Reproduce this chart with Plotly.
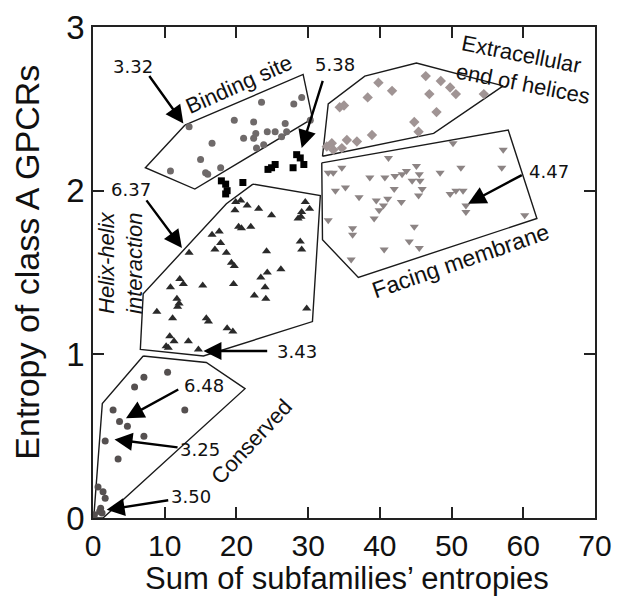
import plotly.graph_objects as go

# ---- residue groups: (sum of subfamily entropies, class A entropy) ----
binding_x = [13.4, 16.6, 15.0, 10.8, 15.7, 16.0, 17.8, 19.7, 22.4, 23.5, 21.0, 22.4,
             22.7, 24.3, 25.4, 26.8, 27.0, 30.3, 28.0, 29.1, 22.8, 23.8, 26.3]
binding_y = [2.39, 2.29, 2.19, 2.12, 2.11, 2.10, 2.14, 2.43, 2.42, 2.54, 2.32, 2.32,
             2.35, 2.36, 2.36, 2.41, 2.36, 2.43, 2.53, 2.57, 2.26, 2.28, 2.33]

extra_x = [39.8, 41.7, 38.3, 46.4, 48.5, 49.8, 50.6, 46.9, 54.5, 47.9, 44.8, 45.4,
           34.4, 35.0, 38.9, 36.8, 35.4, 33.3, 32.6, 33.5, 34.7]
extra_y = [2.66, 2.61, 2.57, 2.70, 2.67, 2.63, 2.59, 2.59, 2.59, 2.48, 2.42, 2.36,
           2.51, 2.52, 2.34, 2.30, 2.31, 2.29, 2.27, 2.25, 2.26]

membrane_x = [41.2, 34.7, 32.8, 33.5, 38.6, 40.7, 42.1, 43.1, 43.7, 45.1, 45.5, 44.5,
              45.6, 45.9, 45.4, 48.4, 51.3, 57.0, 33.8, 35.2, 37.1, 39.5, 41.1, 42.0,
              43.0, 40.5, 39.9, 39.2, 32.8, 36.2, 36.2, 44.8, 44.1, 45.5, 40.6, 36.0,
              49.8, 50.6, 51.6, 52.0, 52.0, 60.2, 50.2, 57.2]
membrane_y = [2.20, 2.14, 2.11, 2.11, 2.08, 2.08, 2.09, 2.10, 2.12, 2.15, 2.10, 2.06,
              2.06, 2.01, 1.97, 2.11, 2.14, 2.14, 2.00, 2.02, 1.96, 1.94, 1.95, 2.01,
              1.93, 1.91, 1.88, 1.83, 1.82, 1.77, 1.73, 1.78, 1.69, 1.65, 1.64, 1.58,
              1.98, 2.00, 2.00, 1.91, 1.87, 1.85, 2.29, 2.25]

helix_x = [19.9, 20.6, 19.8, 21.5, 23.1, 24.9, 20.3, 20.7, 22.0, 29.6, 30.2, 29.1,
           28.6, 29.0, 16.6, 17.6, 17.8, 17.0, 18.6, 13.4, 24.2, 28.9, 29.1, 19.3,
           19.7, 26.2, 24.3, 23.4, 19.6, 15.3, 12.1, 12.6, 10.8, 24.0, 22.5, 24.1,
           11.7, 12.0, 11.8, 8.9, 29.8, 11.1, 15.8, 16.1, 18.7, 19.5, 10.7, 11.3,
           13.3, 10.2, 10.5, 14.7]
helix_y = [1.93, 1.94, 1.88, 1.91, 1.89, 1.85, 1.78, 1.77, 1.78, 1.93, 1.89, 1.87,
           1.83, 1.84, 1.73, 1.75, 1.68, 1.64, 1.62, 1.62, 1.63, 1.69, 1.64, 1.56,
           1.54, 1.52, 1.50, 1.47, 1.43, 1.42, 1.46, 1.43, 1.41, 1.41, 1.36, 1.34,
           1.34, 1.31, 1.29, 1.26, 1.28, 1.22, 1.22, 1.20, 1.16, 1.14, 1.11, 1.08,
           1.08, 1.05, 1.04, 1.03]

conserved_x = [7.1, 10.4, 5.8, 2.8, 3.7, 4.8, 12.8, 1.7, 7.1, 3.5, 0.7, 1.4, 1.7,
               1.07, 0.93, 1.26, 0.2]
conserved_y = [0.86, 0.89, 0.80, 0.66, 0.59, 0.56, 0.66, 0.47, 0.50, 0.36, 0.19, 0.16,
               0.12, 0.06, 0.04, 0.03, 0.02]

other_x = [17.9, 18.5, 18.7, 18.5, 20.9, 25.4, 24.9, 24.4, 28.4, 27.9, 29.4, 28.9]
other_y = [2.06, 2.04, 2.00, 1.98, 2.05, 2.16, 2.14, 2.13, 2.22, 2.14, 2.16, 2.20]

# ---- outlines around each group ----
binding_hull_x = [12.8, 29.3, 30.6, 14.2, 7.3, 12.8]
binding_hull_y = [2.40, 2.71, 2.44, 2.01, 2.14, 2.40]
extra_hull_x = [32.0, 32.8, 37.9, 45.1, 57.2, 47.5, 32.0]
extra_hull_y = [2.21, 2.53, 2.70, 2.78, 2.64, 2.35, 2.21]
membrane_hull_x = [31.9, 57.9, 61.9, 37.0, 32.0, 31.9]
membrane_hull_y = [2.17, 2.37, 1.83, 1.47, 1.70, 2.17]
helix_hull_x = [22.3, 31.7, 30.6, 15.4, 6.6, 7.0, 18.6, 22.3]
helix_hull_y = [2.04, 1.97, 1.20, 0.99, 1.03, 1.37, 1.92, 2.04]
conserved_hull_x = [7.0, 15.8, 21.2, 1.4, 0.1, 1.3, 7.0]
conserved_hull_y = [0.99, 0.95, 0.79, 0.0, 0.0, 0.70, 0.99]

# ---- value callouts: label, label position, arrow tail, arrow head ----
callout_text = ["3.32", "5.38", "4.47", "6.37", "3.43", "6.48", "3.25", "3.50"]
callout_pos = [(5.6, 2.76), (33.7, 2.77), (63.6, 2.12), (5.3, 2.01),
               (28.5, 1.02), (15.5, 0.81), (14.9, 0.42), (13.6, 0.13)]
callout_tail = [(7.7, 2.71), (32.1, 2.68), (60.0, 2.10), (7.3, 1.95),
                (24.5, 1.02), (12.1, 0.79), (12.0, 0.43), (10.7, 0.11)]
callout_head = [(12.6, 2.41), (29.1, 2.26), (52.3, 1.92), (12.4, 1.65),
                (15.4, 1.02), (4.6, 0.61), (3.0, 0.48), (1.9, 0.05)]

x_ticks = [0, 10, 20, 30, 40, 50, 60, 70]
y_ticks = [0, 1, 2, 3]

SANS = "Liberation Sans, Arial, sans-serif"

fig = go.Figure()

for hx, hy in [(binding_hull_x, binding_hull_y), (extra_hull_x, extra_hull_y),
               (membrane_hull_x, membrane_hull_y), (helix_hull_x, helix_hull_y),
               (conserved_hull_x, conserved_hull_y)]:
    fig.add_trace(go.Scatter(x=hx, y=hy, mode="lines", hoverinfo="skip",
                             line=dict(color="#1a1a1a", width=1.4)))

groups = [
    (binding_x, binding_y, "circle", "#6f6a6a", 7),
    (extra_x, extra_y, "diamond", "#a09494", 8),
    (membrane_x, membrane_y, "triangle-down", "#8c8484", 8),
    (helix_x, helix_y, "triangle-up", "#2a2a2a", 8),
    (conserved_x, conserved_y, "circle", "#555050", 7),
    (other_x, other_y, "square", "#000000", 7),
]
for gx, gy, sym, col, size in groups:
    fig.add_trace(go.Scatter(x=gx, y=gy, mode="markers", cliponaxis=False,
                             marker=dict(symbol=sym, color=col, size=size,
                                         line=dict(width=0))))

label_font = dict(family="DejaVu Sans, sans-serif", size=18, color="#111")
for txt, (lx, ly), (tx, ty), (hx, hy) in zip(callout_text, callout_pos,
                                              callout_tail, callout_head):
    fig.add_annotation(x=lx, y=ly, text=txt, showarrow=False, font=label_font)
    fig.add_annotation(x=hx, y=hy, ax=tx, ay=ty, xref="x", yref="y",
                       axref="x", ayref="y", text="", showarrow=True,
                       arrowhead=2, arrowsize=1.5, arrowwidth=2.4,
                       arrowcolor="#000")

group_font = dict(family=SANS, size=22, color="#111")
fig.add_annotation(x=20.3, y=2.65, text="Binding site", textangle=-24,
                   showarrow=False, font=group_font)
fig.add_annotation(x=60.4, y=2.74, text="Extracellular<br>end of helices",
                   textangle=11, align="left", showarrow=False, font=group_font)
fig.add_annotation(x=51.2, y=1.57, text="Facing membrane", textangle=-19,
                   showarrow=False, font=dict(family=SANS, size=23, color="#111"))
fig.add_annotation(x=3.8, y=1.56, text="<i>Helix-helix</i><br><i>interaction</i>",
                   textangle=-90, showarrow=False, font=group_font)
fig.add_annotation(x=22.1, y=0.47, text="Conserved", textangle=-47,
                   showarrow=False, font=group_font)

# axis titles, placed in pixels relative to the plot area
fig.add_annotation(xref="paper", yref="paper", x=0.506, y=0, yshift=-60,
                   yanchor="middle", showarrow=False,
                   text="Sum of subfamilies\u2019 entropies",
                   font=dict(family=SANS, size=31, color="#111"))
fig.add_annotation(xref="paper", yref="paper", x=0, xshift=-66, y=0.52,
                   xanchor="center", yanchor="middle", textangle=-90,
                   showarrow=False, text="Entropy of class A GPCRs",
                   font=dict(family=SANS, size=34, color="#111"))

axis_common = dict(showline=True, linecolor="#222", linewidth=1.5, mirror="ticks",
                   ticks="inside", ticklen=11, tickwidth=1.5, tickcolor="#222",
                   showgrid=False, zeroline=False, automargin=False)

fig.update_layout(
    width=620, height=596,
    margin=dict(l=93, r=25, t=27, b=78),
    paper_bgcolor="white", plot_bgcolor="white",
    showlegend=False,
    xaxis=dict(range=[0, 70], tickvals=x_ticks, ticklabelstandoff=0,
               tickfont=dict(family=SANS, size=30, color="#111"), **axis_common),
    yaxis=dict(range=[0, 3], tickvals=y_ticks,
               tickfont=dict(family=SANS, size=33, color="#111"), **axis_common),
)

fig.write_html("out.html")
